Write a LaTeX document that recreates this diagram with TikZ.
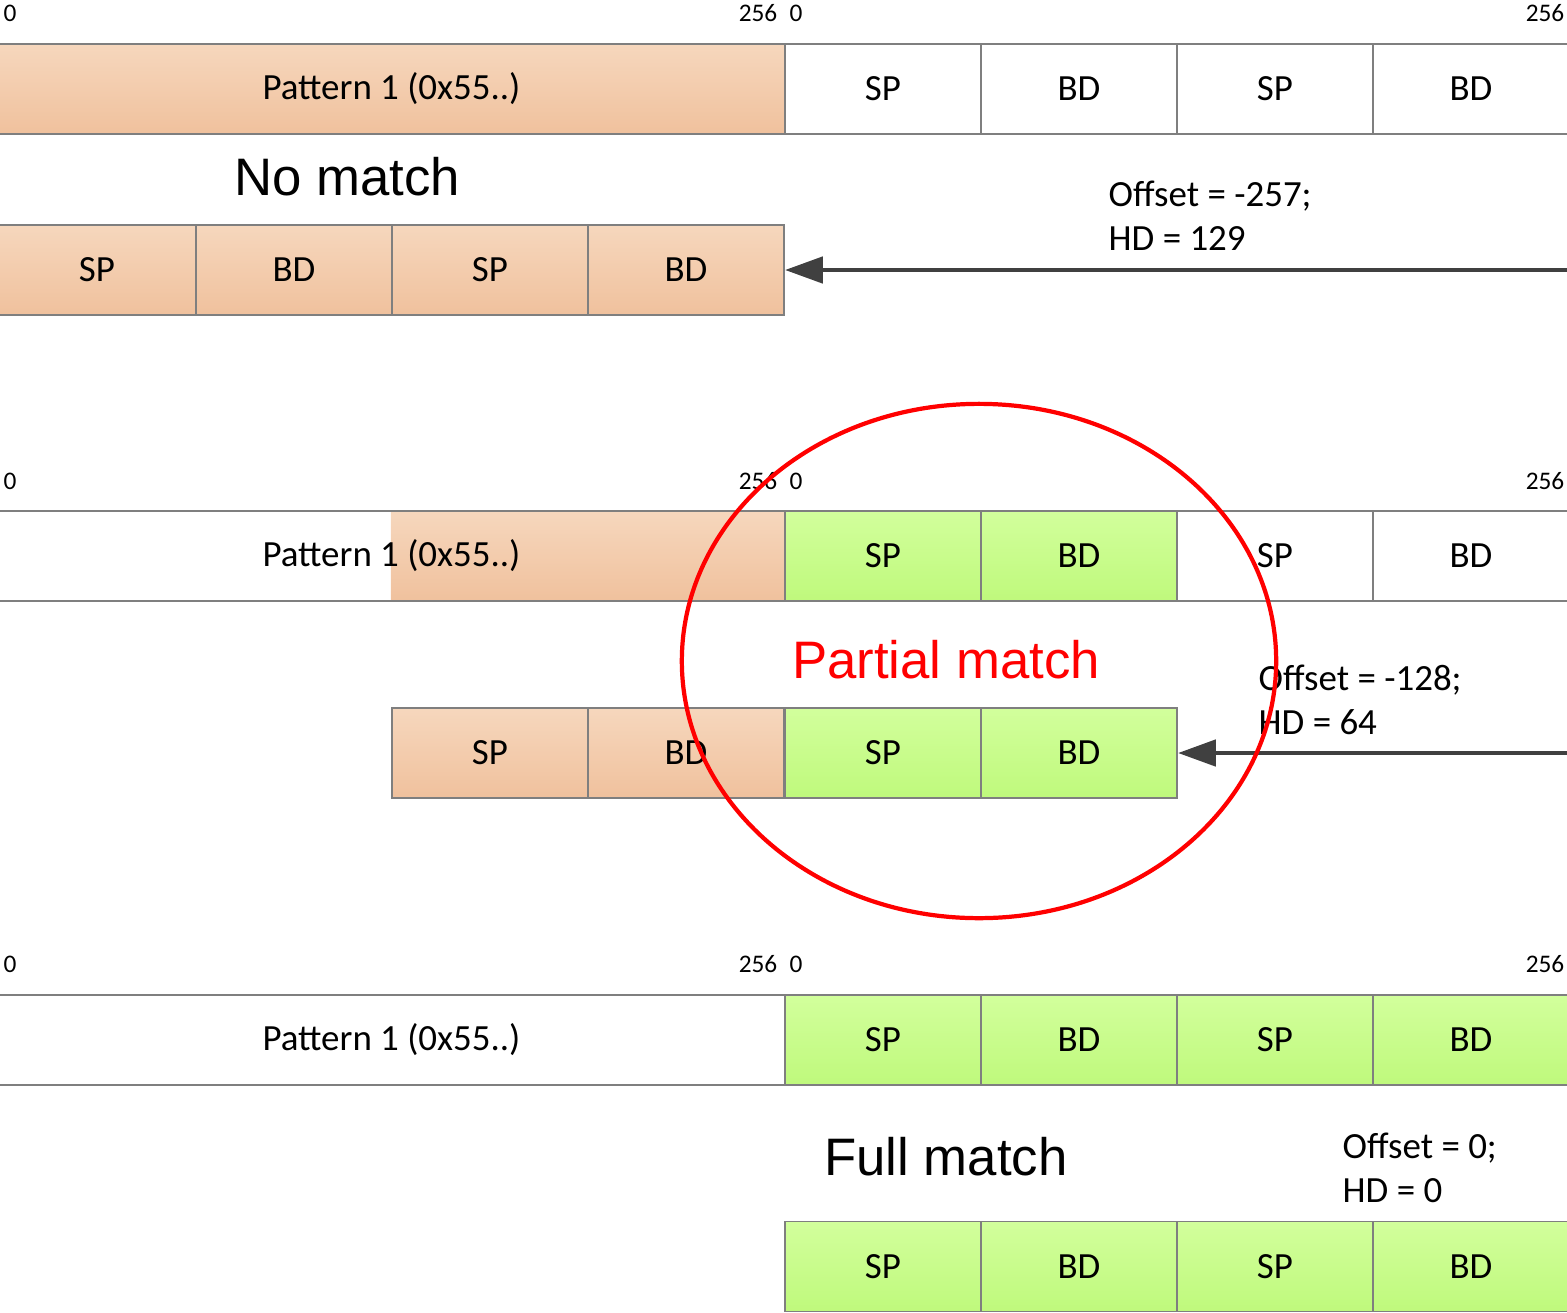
\documentclass[tikz,border=0pt]{standalone}
\usepackage{fontspec}
\setmainfont{Carlito}
\newfontfamily\titlefont{Liberation Sans}
\usetikzlibrary{arrows.meta}
\definecolor{peachtop}{HTML}{F6D7BD}
\definecolor{peachbottom}{HTML}{F0C19D}
\definecolor{greentop}{HTML}{D2FF9C}
\definecolor{greenbottom}{HTML}{BFF97C}
\definecolor{cellline}{HTML}{7F7F7F}
\definecolor{arrowgray}{HTML}{404040}
\tikzstyle{cell}=[rectangle, draw=cellline, line width=0.5pt,
                  minimum width=1.96cm, minimum height=0.9cm,
                  inner sep=0pt, font=\fontsize{10.5}{12.5}\selectfont]

\begin{document}
\begin{tikzpicture}[x=0.01cm,y=-0.01cm]
  \tikzstyle{peachcell}=[top color=peachtop, bottom color=peachbottom]
  \tikzstyle{greencell}=[top color=greentop, bottom color=greenbottom]
  \tikzstyle{ticks}=[font=\fontsize{7.2}{8}\selectfont, inner sep=0pt]
  \tikzstyle{titles}=[font=\titlefont\fontsize{15}{18}\selectfont, inner sep=0pt]
  \tikzstyle{scores}=[font=\fontsize{10.5}{12.5}\selectfont, align=left, anchor=west, inner sep=0pt]
  \tikzstyle{shiftarrow}=[-{Triangle[length=3.8mm,width=2.6mm]}, draw=arrowgray, line width=1.4pt]
  \useasboundingbox (0,0) rectangle (1567,1312);
  \node[ticks] (zerotopa) at (10,13) {0};
  \node[ticks,anchor=east] (endtopa) at (778,13) {256};
  \node[ticks] (zerotopb) at (796,13) {0};
  \node[ticks,anchor=east] (endtopb) at (1565,13) {256};
  \node (patternone) at (391.5,89) [cell,peachcell,minimum width=7.87cm] {Pattern 1 (0x55..)};
  \node (sponea) at (883,89) [cell] {SP};
  \node (bdonea) at (1079,89) [cell] {BD};
  \node (sponeb) at (1275,89) [cell] {SP};
  \node (bdoneb) at (1471,89) [cell] {BD};
  \node[titles] (nomatch) at (347,177) {No match};
  \node[scores] (scoreone) at (1108,216) {Offset = -257;\\HD = 129};
  \node (shiftspa) at (97,270) [cell,peachcell,minimum width=1.98cm] {SP};
  \node (shiftbda) at (294,270) [cell,peachcell] {BD};
  \node (shiftspb) at (490,270) [cell,peachcell] {SP};
  \node (shiftbdb) at (686,270) [cell,peachcell] {BD};
  \coordinate (startone) at (1567,270);
  \draw[shiftarrow] (startone) -- (shiftbdb.east);
  \node[ticks] (zeromida) at (10,481) {0};
  \node[ticks,anchor=east] (endmida) at (778,481) {256};
  \node[ticks] (zeromidb) at (796,481) {0};
  \node[ticks,anchor=east] (endmidb) at (1565,481) {256};
  \node (patternpart) at (588,556) [peachcell,minimum width=3.94cm,minimum height=0.9cm,inner sep=0pt] {};
  \node (patterntwo) at (391.5,556) [cell,minimum width=7.87cm] {Pattern 1 (0x55..)};
  \node (sptwoa) at (883,556) [cell,greencell] {SP};
  \node (bdtwoa) at (1079,556) [cell,greencell] {BD};
  \node (sptwob) at (1275,556) [cell] {SP};
  \node (bdtwob) at (1471,556) [cell] {BD};
  \node[titles,text=red] (partialmatch) at (946,660) {Partial match};
  \node[scores] (scoretwo) at (1258,699.5) {Offset = -128;\\HD = 64};
  \node (shiftspc) at (490,753) [cell,peachcell] {SP};
  \node (shiftbdc) at (686,753) [cell,peachcell] {BD};
  \node (shiftspd) at (883,753) [cell,greencell] {SP};
  \node (shiftbdd) at (1079,753) [cell,greencell] {BD};
  \coordinate (starttwo) at (1567,753);
  \draw[shiftarrow] (starttwo) -- (shiftbdd.east);
  \draw[red,line width=1.2pt] (979,661) ellipse [x radius=2.97cm,y radius=2.57cm];
  \node[ticks] (zerolowa) at (10,964) {0};
  \node[ticks,anchor=east] (endlowa) at (778,964) {256};
  \node[ticks] (zerolowb) at (796,964) {0};
  \node[ticks,anchor=east] (endlowb) at (1565,964) {256};
  \node (patternthree) at (391.5,1040) [cell,minimum width=7.87cm] {Pattern 1 (0x55..)};
  \node (spthreea) at (883,1040) [cell,greencell] {SP};
  \node (bdthreea) at (1079,1040) [cell,greencell] {BD};
  \node (spthreeb) at (1275,1040) [cell,greencell] {SP};
  \node (bdthreeb) at (1471,1040) [cell,greencell] {BD};
  \node[titles] (fullmatch) at (946,1157) {Full match};
  \node[scores] (scorethree) at (1342,1167.5) {Offset = 0;\\HD = 0};
  \node (shiftspe) at (883,1266.5) [cell,greencell] {SP};
  \node (shiftbde) at (1079,1266.5) [cell,greencell] {BD};
  \node (shiftspf) at (1275,1266.5) [cell,greencell] {SP};
  \node (shiftbdf) at (1471,1266.5) [cell,greencell] {BD};
\end{tikzpicture}
\end{document}
